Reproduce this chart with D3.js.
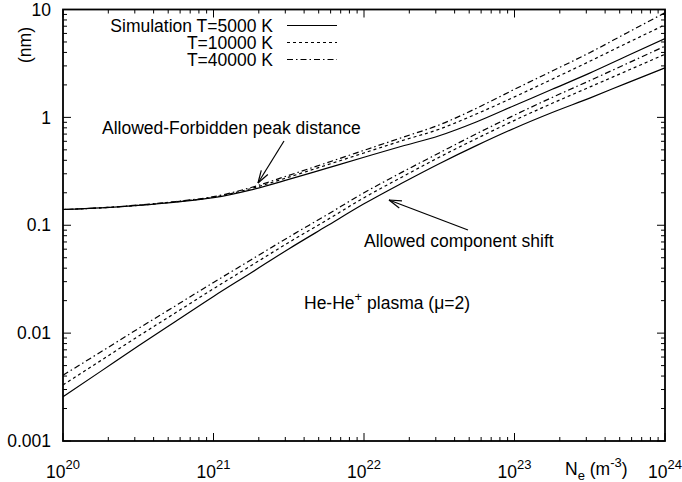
<!DOCTYPE html>
<html>
<head>
<meta charset="utf-8">
<script src="https://cdn.jsdelivr.net/npm/d3@7"></script>
<style>
  body { margin: 0; background: #fff; }
  svg text { font-family: "Liberation Sans", Helvetica, Arial, sans-serif; fill: #000; }
</style>
</head>
<body>
<svg id="chart" width="682" height="482"></svg>
<script>
// electron density (m^-3), quarter-decade steps
const ne = [1e20, 1.78e20, 3.16e20, 5.62e20, 1e21, 1.78e21, 3.16e21, 5.62e21, 1e22,
            1.78e22, 3.16e22, 5.62e22, 1e23, 1.78e23, 3.16e23, 5.62e23, 1e24];

// Allowed-Forbidden peak distance (nm)
const peak5000  = [0.140, 0.145, 0.153, 0.164, 0.180, 0.213, 0.266, 0.337, 0.427, 0.540, 0.676, 0.912, 1.29, 1.82, 2.57, 3.72, 5.37];
const peak10000 = [0.140, 0.145, 0.153, 0.165, 0.182, 0.219, 0.279, 0.361, 0.468, 0.607, 0.777, 1.08, 1.55, 2.26, 3.31, 4.90, 7.21];
const peak40000 = [0.140, 0.145, 0.154, 0.166, 0.184, 0.224, 0.290, 0.378, 0.495, 0.649, 0.851, 1.22, 1.82, 2.69, 3.98, 6.10, 9.33];

// Allowed component shift (nm)
const shift5000  = [0.00257, 0.00442, 0.00759, 0.0129, 0.0219, 0.0363, 0.0603, 0.0977, 0.158, 0.245, 0.372, 0.550, 0.794, 1.11, 1.51, 2.09, 2.88];
const shift10000 = [0.00331, 0.00556, 0.00933, 0.0155, 0.0258, 0.0423, 0.0692, 0.111, 0.180, 0.279, 0.427, 0.638, 0.938, 1.35, 1.91, 2.71, 3.85];
const shift40000 = [0.00407, 0.00668, 0.0110, 0.0180, 0.0295, 0.0479, 0.0776, 0.124, 0.200, 0.309, 0.468, 0.708, 1.05, 1.53, 2.19, 3.16, 4.57];

const xTickExp = [20, 21, 22, 23, 24];
const yTicks = [0.001, 0.01, 0.1, 1, 10];
const yTickLabels = ['0.001', '0.01', '0.1', '1', '10'];
const legendLabels = ['Simulation T=5000 K', 'T=10000 K', 'T=40000 K'];

const DASHES = [null, '3,3', '6,3,1.5,3'];
const FS = 17.5;   // main font size
const FS_SUP = 13;

const svg = d3.select('#chart');
const L = 63, R = 665, T = 9.5, B = 441;

const x = d3.scaleLog().domain([1e20, 1e24]).range([L, R]);
const y = d3.scaleLog().domain([0.001, 10]).range([B, T]);

const g = svg.append('g');

// minor + major ticks on all four sides
const minorX = [], minorY = [];
for (let e = 20; e < 24; e++) for (let k = 2; k <= 9; k++) minorX.push(k * Math.pow(10, e));
for (let e = -3; e < 1; e++) for (let k = 2; k <= 9; k++) minorY.push(k * Math.pow(10, e));

const tickG = g.append('g').attr('stroke', '#000').attr('stroke-width', 1);
minorX.forEach(v => {
  tickG.append('line').attr('x1', x(v)).attr('x2', x(v)).attr('y1', B).attr('y2', B - 4);
  tickG.append('line').attr('x1', x(v)).attr('x2', x(v)).attr('y1', T).attr('y2', T + 4);
});
xTickExp.forEach(e => {
  const v = Math.pow(10, e);
  tickG.append('line').attr('x1', x(v)).attr('x2', x(v)).attr('y1', B).attr('y2', B - 8);
  tickG.append('line').attr('x1', x(v)).attr('x2', x(v)).attr('y1', T).attr('y2', T + 8);
});
minorY.forEach(v => {
  tickG.append('line').attr('x1', L).attr('x2', L + 4).attr('y1', y(v)).attr('y2', y(v));
  tickG.append('line').attr('x1', R).attr('x2', R - 4).attr('y1', y(v)).attr('y2', y(v));
});
yTicks.forEach(v => {
  tickG.append('line').attr('x1', L).attr('x2', L + 8).attr('y1', y(v)).attr('y2', y(v));
  tickG.append('line').attr('x1', R).attr('x2', R - 8).attr('y1', y(v)).attr('y2', y(v));
});

// frame
g.append('rect')
  .attr('x', L).attr('y', T).attr('width', R - L).attr('height', B - T)
  .attr('fill', 'none').attr('stroke', '#000').attr('stroke-width', 1.8);

// y tick labels
yTicks.forEach((v, i) => {
  g.append('text')
    .attr('x', L - 12).attr('y', y(v)).attr('dy', '0.35em')
    .attr('text-anchor', 'end').attr('font-size', FS)
    .text(yTickLabels[i]);
});

// x tick labels 10^n
xTickExp.forEach(e => {
  const t = g.append('text')
    .attr('x', x(Math.pow(10, e))).attr('y', 478)
    .attr('text-anchor', 'middle').attr('font-size', FS);
  t.append('tspan').text('10');
  t.append('tspan').attr('font-size', FS_SUP).attr('dy', -9).text(e);
});

// axis titles
g.append('text')
  .attr('transform', 'translate(31,45) rotate(-90)')
  .attr('text-anchor', 'middle').attr('font-size', FS)
  .text('(nm)');

const xt = g.append('text').attr('x', 565).attr('y', 475).attr('font-size', FS);
xt.append('tspan').text('N');
xt.append('tspan').attr('font-size', FS_SUP).attr('dy', 5).text('e');
xt.append('tspan').attr('dy', -5).text(' (m');
xt.append('tspan').attr('font-size', FS_SUP).attr('dy', -8).text('-3');
xt.append('tspan').attr('dy', 8).text(')');

// curves
const line = d3.line()
  .x(d => x(d[0]))
  .y(d => y(d[1]))
  .curve(d3.curveMonotoneX);

const series = [
  [peak5000, 0], [peak10000, 1], [peak40000, 2],
  [shift5000, 0], [shift10000, 1], [shift40000, 2]
];

const clip = svg.append('defs').append('clipPath').attr('id', 'plot-clip');
clip.append('rect').attr('x', L).attr('y', T).attr('width', R - L).attr('height', B - T);

const curves = g.append('g').attr('clip-path', 'url(#plot-clip)');
series.forEach(([vals, k]) => {
  curves.append('path')
    .datum(ne.map((n, i) => [n, vals[i]]))
    .attr('d', line)
    .attr('fill', 'none')
    .attr('stroke', '#000')
    .attr('stroke-width', 1.2)
    .attr('stroke-dasharray', DASHES[k]);
});

// legend
legendLabels.forEach((lab, i) => {
  const by = 31.5 + i * 17;
  g.append('text')
    .attr('x', 273).attr('y', by)
    .attr('text-anchor', 'end').attr('font-size', FS)
    .text(lab);
  g.append('line')
    .attr('x1', 287).attr('x2', 337).attr('y1', by - 6).attr('y2', by - 6)
    .attr('stroke', '#000').attr('stroke-width', 1.2)
    .attr('stroke-dasharray', DASHES[i]);
});

// annotations
const arrow = (x1, y1, x2, y2) => {
  g.append('line').attr('x1', x1).attr('y1', y1).attr('x2', x2).attr('y2', y2)
    .attr('stroke', '#000').attr('stroke-width', 1.2);
  const a = Math.atan2(y2 - y1, x2 - x1);
  const len = 13, spread = 0.3;
  [a + Math.PI - spread, a + Math.PI + spread].forEach(b => {
    g.append('line')
      .attr('x1', x2).attr('y1', y2)
      .attr('x2', x2 + len * Math.cos(b)).attr('y2', y2 + len * Math.sin(b))
      .attr('stroke', '#000').attr('stroke-width', 1.2);
  });
};

g.append('text').attr('x', 102).attr('y', 134).attr('font-size', FS)
  .text('Allowed-Forbidden peak distance');
arrow(284, 141, 258, 183);

g.append('text').attr('x', 364).attr('y', 247).attr('font-size', FS)
  .text('Allowed component shift');
arrow(468, 230, 389, 200);

const he = g.append('text').attr('x', 304).attr('y', 309).attr('font-size', FS);
he.append('tspan').text('He-He');
he.append('tspan').attr('font-size', FS_SUP).attr('dy', -8).text('+');
he.append('tspan').attr('dy', 8).text(' plasma (μ=2)');
</script>
</body>
</html>
